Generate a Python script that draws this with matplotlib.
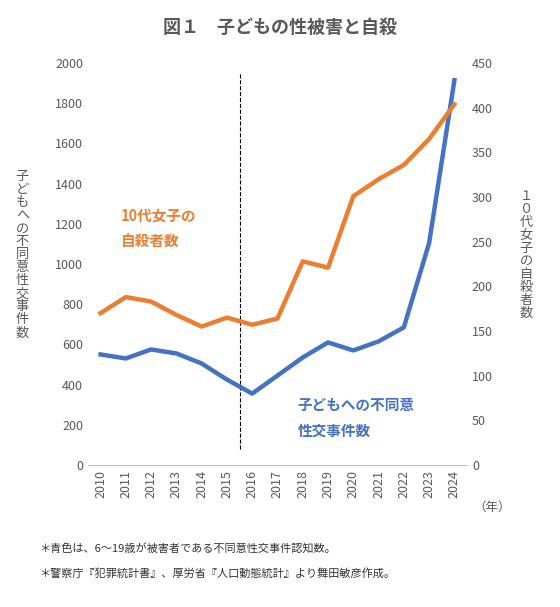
import matplotlib
matplotlib.use("Agg")
import matplotlib.pyplot as plt

plt.rcParams['font.family'] = ['Noto Sans CJK JP', 'DejaVu Sans']

years = list(range(2010, 2025))
cases = [550, 530, 575, 555, 505, 425, 355, 445, 535, 610, 570, 615, 685, 1105, 1915]
suicides = [170, 188, 183, 168, 155, 165, 157, 164, 228, 221, 301, 320, 336, 365, 404]

blue = '#4472C4'
orange = '#ED7D31'
grey = '#595959'

fig = plt.figure(figsize=(5.6, 6.07), dpi=100)
ax = fig.add_axes([0.157, 0.234, 0.677, 0.662])
ax2 = ax.twinx()

ax.plot(years, cases, color=blue, lw=3.2, zorder=3)
ax2.plot(years, suicides, color=orange, lw=3.2)
ax.plot([2015.5, 2015.5], [80, 1950], color='black', ls='--', lw=0.8)

ax.set_xlim(2009.5, 2024.5)
ax.set_ylim(0, 2000)
ax2.set_ylim(0, 450)
ax.set_yticks(range(0, 2001, 200))
ax2.set_yticks(range(0, 451, 50))
ax.set_xticks(years)
ax.set_xticklabels([str(y) for y in years], rotation=90)
for a in (ax, ax2):
    a.tick_params(length=0, labelsize=9, colors=grey)
    for s in a.spines.values():
        s.set_visible(False)
ax.spines['bottom'].set_visible(True)
ax.spines['bottom'].set_color('#BFBFBF')

fig.text(0.5, 0.955, '図１　子どもの性被害と自殺', ha='center', va='center',
         fontsize=13, fontweight='bold', color=grey)
fig.text(0.04, 0.58, '\n'.join('子どもへの不同意性交事件数'), ha='center', va='center',
         fontsize=9.5, color=grey, linespacing=1.0)
fig.text(0.94, 0.58, '\n'.join('１０代女子の自殺者数'), ha='center', va='center',
         fontsize=9.5, color=grey, linespacing=1.0)
ax.text(2010.8, 1180, '10代女子の\n自殺者数', color=orange, fontsize=10.5,
        fontweight='bold', ha='left', va='center', linespacing=1.7)
ax.text(2017.8, 235, '子どもへの不同意\n性交事件数', color=blue, fontsize=10.5,
        fontweight='bold', ha='left', va='center', linespacing=1.7)
fig.text(0.845, 0.165, '（年）', fontsize=9, color=grey, ha='left', va='center')
fig.text(0.07, 0.09, '＊青色は、6〜19歳が被害者である不同意性交事件認知数。', fontsize=8, color='#333333')
fig.text(0.07, 0.05, '＊警察庁『犯罪統計書』、厚労省『人口動態統計』より舞田敏彦作成。', fontsize=8, color='#333333')

fig.savefig('out.png', dpi=100)
